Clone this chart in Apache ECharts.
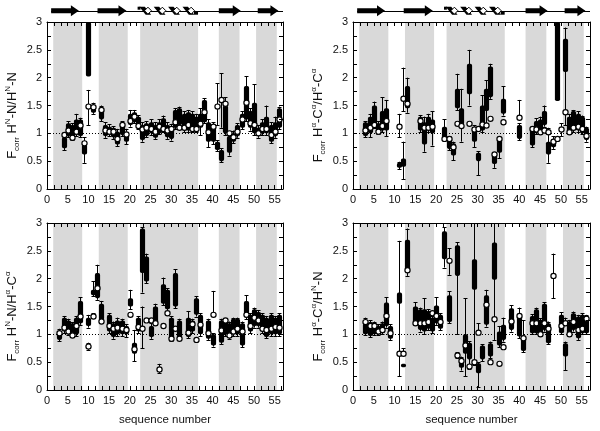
<!DOCTYPE html>
<html><head><meta charset="utf-8">
<script src="https://cdn.jsdelivr.net/npm/echarts@6/dist/echarts.min.js"></script>
<style>html,body{margin:0;padding:0;background:#fff}#c{width:600px;height:431px}</style>
</head><body><div id="c"></div>
<script>
// ---- axis settings ----
const xMin = 0, xMax = 57, xStep = 5;
const yMin = 0, yMax = 3, yStep = 0.5;
const referenceLine = 1;

// ---- secondary structure / shaded regions (residue numbers) ----
const bandRanges = [[1.5, 8.5], [12.5, 19.5], [22.5, 36.5], [41.5, 46.5], [50.5, 55.5]];
const strandRanges = [[1, 7.7], [12.2, 19.2], [41.5, 46.8], [50.9, 55.9]];
const helixRanges = [[22.3, 36.2]];
const ssBackbone = [[1, 57]];

// rows: [residue, barLow, barHigh, whiskerLow, whiskerHigh, circle, circleErrLow, circleErrHigh]
const hnN_hnN = [
  [4, 0.73, 0.93, 0.70, 0.96, 0.97, null, null],
  [5, 0.95, 1.18, 0.93, 1.22, 1.05, null, null],
  [6, 0.92, 1.15, 0.88, 1.18, 0.92, null, null],
  [7, 0.97, 1.25, 0.95, 1.35, 1.03, null, null],
  [8, 0.95, 1.25, 0.93, 1.28, 1.14, null, null],
  [9, 0.62, 0.80, 0.47, 0.93, 0.82, null, null],
  [10, 2.02, 3.0, null, null, 1.48, 1.15, 1.78],
  [11, 1.37, 1.45, 1.35, 1.55, 1.47, null, null],
  [13, 1.25, 1.45, 1.22, 1.50, 1.42, null, null],
  [14, 0.95, 1.15, 0.92, 1.20, 1.05, null, null],
  [15, 0.97, 1.12, 0.95, 1.16, 1.03, null, null],
  [16, 0.93, 1.10, 0.90, 1.13, 1.03, null, null],
  [17, 0.80, 1.03, 0.77, 1.08, 0.90, null, null],
  [18, 0.97, 1.18, 0.95, 1.22, 1.15, null, null],
  [19, 0.85, 1.00, 0.80, 1.08, 0.98, null, null],
  [20, 1.15, 1.35, 1.12, 1.42, 1.22, null, null],
  [21, 1.20, 1.38, 1.18, 1.42, 1.30, null, null],
  [22, 1.10, 1.30, 1.07, 1.33, 1.13, null, null],
  [23, 0.88, 1.15, 0.85, 1.20, 1.07, null, null],
  [24, 0.95, 1.18, 0.93, 1.22, 1.10, null, null],
  [25, 1.00, 1.20, 0.97, 1.25, 1.08, null, null],
  [26, 0.92, 1.15, 0.90, 1.20, 1.03, null, null],
  [27, 1.00, 1.20, 0.98, 1.25, 1.12, null, null],
  [28, 1.05, 1.27, 1.02, 1.32, 1.08, null, null],
  [29, 0.93, 1.15, 0.90, 1.20, 1.05, null, null],
  [30, 0.90, 1.12, 0.87, 1.17, 1.08, null, null],
  [31, 1.10, 1.42, 1.07, 1.45, 1.20, null, null],
  [32, 1.15, 1.45, 1.10, 1.48, 1.10, null, null],
  [33, 1.05, 1.35, 1.02, 1.40, 1.10, null, null],
  [34, 1.05, 1.38, 1.02, 1.42, 1.15, null, null],
  [35, 1.05, 1.35, 1.02, 1.40, 1.08, null, null],
  [36, 1.05, 1.30, 1.02, 1.35, 1.08, null, null],
  [37, 1.10, 1.35, 0.97, 1.45, 1.17, null, null],
  [38, 1.20, 1.60, 1.18, 1.63, 1.38, null, null],
  [39, 0.85, 1.20, 0.75, 1.25, 1.02, null, null],
  [40, 0.85, 1.10, 0.80, 1.20, 1.12, null, null],
  [41, 0.70, 0.85, 0.68, 0.88, 1.48, 1.15, 1.90],
  [42, 0.50, 0.70, 0.48, 0.73, 1.60, 1.10, 2.08],
  [43, 1.00, 1.50, 0.97, 1.65, 1.53, null, null],
  [44, 0.65, 0.95, 0.60, 1.00, 1.00, null, null],
  [45, 0.85, 1.00, 0.82, 1.05, 0.93, null, null],
  [46, 0.95, 1.15, 0.92, 1.18, 1.03, null, null],
  [47, 1.10, 1.35, 1.07, 1.40, 1.25, null, null],
  [48, 1.25, 1.85, 1.22, 2.03, 1.55, null, null],
  [49, 1.10, 1.40, 1.05, 1.45, 1.18, null, null],
  [50, 1.00, 1.55, 0.97, 1.88, 1.15, null, null],
  [51, 0.95, 1.10, 0.92, 1.15, 1.00, null, null],
  [52, 1.00, 1.20, 0.97, 1.25, 1.08, null, null],
  [53, 1.00, 1.30, 0.97, 1.50, 1.08, null, null],
  [54, 0.85, 1.15, 0.82, 1.20, 0.97, null, null],
  [55, 0.95, 1.20, 0.92, 1.30, 1.03, null, null],
  [56, 1.10, 1.45, 1.07, 1.48, 1.25, null, null]
];

const haCa_haCa = [
  [3, 0.95, 1.20, 0.93, 1.22, 1.05, null, null],
  [4, 1.00, 1.30, 0.93, 1.35, 1.10, null, null],
  [5, 1.13, 1.50, 1.10, 1.57, 1.15, null, null],
  [6, 1.00, 1.18, 0.98, 1.22, 1.03, null, null],
  [7, 1.05, 1.40, 1.02, 1.65, 1.13, null, null],
  [8, 1.05, 1.45, 0.95, 1.60, 1.22, null, null],
  [11, 0.38, 0.47, 0.36, 0.49, 1.12, 0.93, 1.35],
  [12, 0.40, 0.55, 0.18, 0.85, 1.62, 1.40, 2.18],
  [13, 1.45, 1.85, 1.37, 2.00, 1.53, null, null],
  [16, 1.05, 1.30, 1.02, 1.33, 1.22, null, null],
  [17, 0.80, 1.20, 0.67, 1.30, 1.10, null, null],
  [18, 1.05, 1.30, 1.02, 1.35, 1.10, null, null],
  [19, 1.00, 1.25, 0.78, 1.40, 1.12, null, null],
  [22, 0.90, 1.12, 0.88, 1.25, 0.90, null, null],
  [23, 0.72, 0.92, 0.70, 0.95, 0.90, null, null],
  [24, 0.60, 0.82, 0.52, 0.85, 0.75, null, null],
  [25, 1.45, 1.80, 1.42, 2.07, 1.17, null, null],
  [26, 1.15, 1.45, 0.85, 1.80, 1.13, null, null],
  [28, 1.70, 2.25, 1.50, 2.50, 1.17, null, null],
  [29, 0.85, 1.10, 0.75, 1.15, 1.07, null, null],
  [30, 0.50, 0.65, 0.25, 0.68, 1.08, null, null],
  [31, 1.05, 1.50, 1.02, 1.68, 1.16, null, null],
  [32, 1.40, 1.80, 1.12, 1.95, 1.14, null, null],
  [33, 1.65, 2.20, 1.62, 2.25, 1.26, null, null],
  [34, 0.45, 0.62, 0.38, 0.65, 0.62, null, null],
  [35, 0.65, 0.90, 0.55, 0.93, 0.90, null, null],
  [36, 1.35, 1.62, 1.32, 1.85, 1.20, null, null],
  [40, 0.90, 1.15, 0.88, 1.18, 1.28, null, 1.60],
  [43, 0.78, 1.08, 0.75, 1.10, 1.08, null, null],
  [44, 1.00, 1.22, 0.98, 1.27, 1.07, null, null],
  [45, 1.05, 1.25, 1.02, 1.30, 1.02, null, null],
  [46, 1.15, 1.40, 1.12, 1.50, 1.05, null, null],
  [47, 0.62, 0.85, 0.47, 1.10, 1.02, null, null],
  [48, 0.75, 0.90, 0.72, 0.95, 0.85, null, null],
  [49, 1.58, 3.00, null, null, 0.90, null, null],
  [50, null, null, null, null, 1.07, 0.95, 1.18],
  [51, 2.10, 2.70, 1.15, 2.90, 1.38, null, null],
  [52, 1.00, 1.30, 0.98, 1.35, 1.02, null, null],
  [53, 1.05, 1.40, 1.02, 1.42, 1.10, null, null],
  [54, 1.05, 1.35, 1.02, 1.40, 1.12, null, null],
  [55, 1.00, 1.30, 0.98, 1.32, 1.08, null, null],
  [56, 0.88, 1.10, 0.85, 1.12, 0.95, null, null]
];

const hnN_haCa = [
  [3, 0.90, 1.05, 0.88, 1.10, 1.02, null, null],
  [4, 1.05, 1.30, 1.02, 1.33, 1.12, null, null],
  [5, 1.00, 1.25, 0.98, 1.28, 1.05, null, null],
  [6, 0.97, 1.20, 0.95, 1.22, 0.98, null, null],
  [7, 1.00, 1.30, 0.97, 1.33, 1.15, null, null],
  [8, 1.20, 1.60, 1.17, 1.67, 1.32, null, null],
  [10, 1.15, 1.30, 1.12, 1.35, 0.78, 0.72, 0.85],
  [11, 1.70, 1.80, 1.68, 1.95, 1.32, null, 1.38],
  [12, 1.65, 2.10, 1.62, 2.25, 1.83, null, null],
  [13, 1.25, 1.55, 1.22, 1.60, 1.23, null, null],
  [15, 1.05, 1.35, 1.02, 1.38, 1.15, null, null],
  [16, 0.95, 1.20, 0.92, 1.23, 1.10, null, null],
  [17, 1.00, 1.25, 0.97, 1.30, 1.12, null, null],
  [18, 1.00, 1.25, 0.97, 1.28, 1.10, null, null],
  [19, 1.00, 1.15, 0.95, 1.18, 1.08, null, null],
  [20, 1.50, 1.65, 1.45, 1.80, 1.35, null, null],
  [21, 0.65, 0.85, 0.52, 1.08, 0.73, null, null],
  [22, 1.05, 1.30, 1.02, 1.33, 1.13, null, null],
  [23, 2.10, 2.90, 1.75, 2.92, 1.10, 0.75, 1.50],
  [24, 1.95, 2.40, 1.92, 2.45, 1.25, null, null],
  [25, 0.95, 1.15, 0.92, 1.20, 1.25, null, null],
  [26, 1.20, 1.50, 1.17, 1.55, 1.20, null, null],
  [27, null, null, null, null, 0.37, 0.30, 0.47],
  [28, 1.55, 1.90, 1.52, 2.02, 1.15, null, null],
  [29, 1.45, 1.80, 1.42, 1.83, 1.38, null, null],
  [30, 0.90, 1.30, 0.88, 1.33, 0.92, null, null],
  [31, 1.50, 2.10, 1.47, 2.17, 1.10, null, null],
  [32, 0.92, 1.25, 0.90, 1.28, 0.92, null, null],
  [34, 0.95, 1.30, 0.93, 1.42, 1.03, null, null],
  [35, 1.05, 1.25, 1.02, 1.28, 1.18, null, null],
  [36, 1.35, 1.65, 1.32, 1.68, 0.90, null, null],
  [37, 1.00, 1.35, 0.97, 1.38, 1.17, null, null],
  [39, 0.92, 1.25, 0.90, 1.28, 1.02, null, null],
  [40, 0.80, 1.00, 0.78, 1.02, 1.35, null, 1.78],
  [42, 0.85, 1.25, 0.82, 1.28, 1.07, null, null],
  [43, 1.00, 1.25, 0.97, 1.28, 1.25, null, null],
  [44, 0.95, 1.20, 0.92, 1.23, 0.98, null, null],
  [45, 1.00, 1.28, 0.97, 1.30, 1.05, null, null],
  [46, 1.00, 1.28, 0.97, 1.30, 1.10, null, null],
  [47, 0.80, 1.20, 0.77, 1.23, 1.05, null, null],
  [48, 1.30, 1.60, 1.27, 1.70, 1.35, null, null],
  [49, 1.05, 1.35, 1.02, 1.38, 1.15, null, null],
  [50, 1.15, 1.45, 1.12, 1.48, 1.30, null, null],
  [51, 1.15, 1.40, 1.12, 1.43, 1.25, null, null],
  [52, 1.05, 1.35, 1.02, 1.38, 1.10, null, null],
  [53, 0.95, 1.30, 0.93, 1.33, 1.08, null, null],
  [54, 1.00, 1.35, 0.97, 1.38, 1.10, null, null],
  [55, 1.00, 1.30, 0.97, 1.33, 1.13, null, null],
  [56, 1.00, 1.35, 0.97, 1.38, 1.12, null, null]
];

const haCa_hnN = [
  [3, 1.00, 1.20, 0.98, 1.30, 1.22, null, null],
  [4, 0.97, 1.22, 0.95, 1.25, 1.15, null, null],
  [5, 1.00, 1.20, 0.98, 1.23, 1.15, null, null],
  [6, 1.00, 1.15, 0.98, 1.18, 1.05, null, null],
  [7, 1.02, 1.20, 1.00, 1.23, 1.08, null, null],
  [8, 1.15, 1.57, 1.12, 1.67, 1.33, null, null],
  [9, 0.92, 1.15, 0.90, 1.18, 1.02, null, null],
  [11, 1.55, 1.75, 0.25, 2.68, 0.65, null, null],
  [12, 0.41, 0.47, null, null, 0.65, null, 0.75],
  [13, 2.15, 2.70, 2.05, 2.90, 2.15, null, null],
  [15, 1.20, 1.50, 1.17, 1.58, 1.20, null, null],
  [16, 1.08, 1.45, 1.05, 1.48, 1.20, null, null],
  [17, 1.05, 1.45, 1.00, 1.65, 1.20, null, null],
  [18, 1.10, 1.42, 1.07, 1.45, 1.22, null, null],
  [19, 1.05, 1.30, 1.02, 1.33, 1.38, null, null],
  [20, 1.20, 1.52, 1.17, 1.67, 1.33, null, null],
  [21, 1.10, 1.35, 1.07, 1.38, 1.22, null, null],
  [22, 2.35, 2.85, 2.20, 2.92, null, null, null],
  [23, 1.22, 1.70, 1.20, 1.77, 2.32, 2.07, 2.55],
  [25, 2.05, 2.60, 1.00, 2.65, 0.62, 0.57, 0.68],
  [26, 0.40, 0.55, 0.35, 0.60, 0.52, null, null],
  [27, 0.65, 1.00, 0.25, 1.65, 0.80, null, null],
  [28, 0.55, 0.85, 0.38, 0.88, 0.42, null, null],
  [29, 1.80, 2.35, 0.45, 3.00, 0.50, null, null],
  [30, 0.30, 0.48, 0.05, 0.50, 1.03, null, 1.20],
  [31, 0.55, 0.80, 0.52, 0.82, null, null, null],
  [32, 1.17, 1.70, 1.14, 1.80, 1.53, null, null],
  [33, 0.60, 0.84, 0.57, 0.87, 0.50, null, null],
  [34, 1.98, 2.65, 0.90, 3.00, 1.27, null, null],
  [35, 0.80, 1.05, 0.77, 1.15, 0.47, null, null],
  [36, 0.90, 1.17, 0.87, 1.30, 0.77, null, null],
  [38, 1.08, 1.47, 1.05, 1.52, 1.23, null, null],
  [40, 0.96, 1.35, 0.93, 1.48, 1.33, null, null],
  [41, 0.70, 0.98, 0.68, 1.25, 0.93, null, null],
  [43, 1.02, 1.33, 1.00, 1.36, 1.20, null, null],
  [44, 1.02, 1.45, 1.00, 1.48, 1.20, null, null],
  [45, 0.99, 1.26, 0.97, 1.29, 1.00, null, null],
  [46, 1.08, 1.55, 1.05, 1.58, 1.20, null, null],
  [47, 0.84, 1.20, 0.82, 1.23, 1.10, null, null],
  [48, null, null, null, null, 2.05, 1.65, 2.45],
  [50, 1.02, 1.35, 1.00, 1.40, 1.15, null, null],
  [51, 0.60, 0.84, 0.36, 0.87, 1.20, null, 1.30],
  [52, 0.99, 1.23, 0.97, 1.26, 1.00, null, null],
  [53, 1.08, 1.38, 1.05, 1.41, 1.22, null, null],
  [54, 0.93, 1.32, 0.90, 1.35, 1.08, null, null],
  [55, 1.02, 1.35, 1.00, 1.38, 1.10, null, null],
  [56, 1.02, 1.32, 1.00, 1.35, 1.28, null, null]
];

const titleParts = [['N', 'N'], ['a', 'a'], ['N', 'a'], ['a', 'N']];
const xAxisTitle = 'sequence number';

const FONT = '"Liberation Sans", Arial, Helvetica, sans-serif';
const panels = [
  { rows: hnN_hnN, grid: { left: 47, top: 22, width: 236, height: 167 }, ss: true },
  { rows: haCa_haCa, grid: { left: 353, top: 22, width: 237, height: 167 }, ss: true },
  { rows: hnN_haCa, grid: { left: 47, top: 223, width: 236, height: 167 }, ss: false },
  { rows: haCa_hnN, grid: { left: 353, top: 223, width: 237, height: 167 }, ss: false }
];

function coupling(k) {
  return k === 'N' ? '{m|H}{sup|N}{m|-N}' : '{m|H}{sup|α}{m|-C}{sup|α}';
}
function yTitle(p) {
  return '{m|F}{sub|corr}{m| }' + coupling(p[0]) + '{m|/}' + coupling(p[1]);
}
const richTitle = {
  m: { fontSize: 13, lineHeight: 17, fontFamily: FONT, color: '#111' },
  sup: { fontSize: 8, lineHeight: 17, verticalAlign: 'top', fontFamily: FONT, color: '#111' },
  sub: { fontSize: 8, lineHeight: 17, verticalAlign: 'bottom', fontFamily: FONT, color: '#111' }
};

const axisLine = { show: true, onZero: false, lineStyle: { color: '#000', width: 1 } };
const grids = [], xAxes = [], yAxes = [], series = [];

panels.forEach((p, i) => {
  grids.push(Object.assign({ containLabel: false }, p.grid));
  const bottom = i >= 2;
  const xBase = {
    gridIndex: i, type: 'value', min: xMin, max: xMax, interval: xStep, z: 10,
    axisLine: axisLine, splitLine: { show: false },
    axisTick: { show: true, inside: true, length: 4, lineStyle: { color: '#000' } },
    minorTick: { show: true, splitNumber: 3, length: 4, lineStyle: { color: '#000' } }
  };
  xAxes.push(Object.assign({}, xBase, {
    position: 'bottom',
    axisLabel: { fontSize: 11, color: '#111', margin: 5, fontFamily: FONT,
      formatter: v => (v % xStep === 0 ? String(v) : '') },
    name: bottom ? xAxisTitle : '', nameLocation: 'middle', nameGap: 24,
    nameTextStyle: { fontSize: 11.5, color: '#111', fontFamily: FONT }
  }));
  xAxes.push(Object.assign({}, xBase, { position: 'top', axisLabel: { show: false } }));
  const yBase = {
    gridIndex: i, type: 'value', min: yMin, max: yMax, interval: yStep, z: 10,
    axisLine: axisLine, splitLine: { show: false },
    axisTick: { show: true, inside: true, length: 4, lineStyle: { color: '#000' } },
    minorTick: { show: true, splitNumber: 2, length: 4, lineStyle: { color: '#000' } }
  };
  yAxes.push(Object.assign({}, yBase, {
    position: 'left',
    axisLabel: { fontSize: 11, color: '#111', margin: 5, fontFamily: FONT },
    name: yTitle(titleParts[i]), nameLocation: 'middle', nameRotate: 90, nameGap: 26,
    nameTextStyle: { rich: richTitle, padding: [0, 20, 0, 0] }
  }));
  yAxes.push(Object.assign({}, yBase, { position: 'right', axisLabel: { show: false } }));

  const xi = 2 * i, yi = 2 * i;

  // shaded bands
  series.push({
    type: 'custom', xAxisIndex: xi, yAxisIndex: yi, z: 1, silent: true,
    data: bandRanges.map(b => [b[0], yMin]),
    renderItem: (params, api) => {
      const b = bandRanges[params.dataIndex];
      const p0 = api.coord([b[0], yMax]), p1 = api.coord([b[1], yMin]);
      return { type: 'rect', shape: { x: p0[0], y: p0[1], width: p1[0] - p0[0], height: p1[1] - p0[1] },
        style: { fill: '#d9d9d9' } };
    }
  });
  // dotted reference line
  series.push({
    type: 'custom', xAxisIndex: xi, yAxisIndex: yi, z: 2, silent: true,
    data: [[xMin, referenceLine]],
    renderItem: (params, api) => {
      const a = api.coord([xMin, referenceLine]), b = api.coord([xMax, referenceLine]);
      const y = Math.round(a[1]) + 0.5;
      return { type: 'line', shape: { x1: a[0], y1: y, x2: b[0], y2: y },
        style: { stroke: '#000', lineWidth: 1, lineDash: [1, 2] } };
    }
  });
  // data marks
  const rows = p.rows;
  series.push({
    type: 'custom', xAxisIndex: xi, yAxisIndex: yi, z: 3, silent: true,
    data: rows.map(r => [r[0], r[1] != null ? r[1] : r[5]]),
    renderItem: (params, api) => {
      const r = rows[params.dataIndex];
      const ch = [];
      const cx = Math.round(api.coord([r[0], 1])[0]) + 0.5;
      const Y = v => api.coord([r[0], v])[1];
      const seg = (lo, hi, capLo, capHi) => {
        const y1 = Y(lo), y2 = Y(hi);
        ch.push({ type: 'line', shape: { x1: cx, y1: y1, x2: cx, y2: y2 }, style: { stroke: '#000', lineWidth: 1 } });
        if (capLo) ch.push({ type: 'line', shape: { x1: cx - 2, y1: Math.round(y1) + 0.5, x2: cx + 2, y2: Math.round(y1) + 0.5 }, style: { stroke: '#000', lineWidth: 1 } });
        if (capHi) ch.push({ type: 'line', shape: { x1: cx - 2, y1: Math.round(y2) + 0.5, x2: cx + 2, y2: Math.round(y2) + 0.5 }, style: { stroke: '#000', lineWidth: 1 } });
      };
      if (r[3] != null && r[4] != null) seg(r[3], r[4], true, true);
      if (r[5] != null && (r[6] != null || r[7] != null)) {
        seg(r[6] != null ? r[6] : r[5], r[7] != null ? r[7] : r[5], r[6] != null, r[7] != null);
      }
      if (r[1] != null && r[2] != null) {
        const yt = Y(r[2]), yb = Y(r[1]);
        ch.push({ type: 'rect', shape: { x: cx - 2.6, y: yt, width: 5.2, height: yb - yt, r: 1.8 }, style: { fill: '#000' } });
      }
      if (r[5] != null) {
        ch.push({ type: 'circle', shape: { cx: cx, cy: Y(r[5]), r: 2.6 }, style: { fill: '#fff', stroke: '#000', lineWidth: 1.2 } });
      }
      return { type: 'group', children: ch };
    }
  });

  if (p.ss) {
    const ssY = api => api.coord([xMin, yMax])[1] - 11.3;
    series.push({
      type: 'custom', xAxisIndex: xi, yAxisIndex: yi, z: 3, silent: true, clip: false,
      data: ssBackbone.map(s => [s[0], yMax]),
      renderItem: (params, api) => {
        const s = ssBackbone[params.dataIndex];
        const y = Math.round(ssY(api)) + 0.5;
        return { type: 'line', shape: { x1: api.coord([s[0], yMax])[0], y1: y, x2: api.coord([s[1], yMax])[0], y2: y },
          style: { stroke: '#000', lineWidth: 1 } };
      }
    });
    series.push({
      type: 'custom', xAxisIndex: xi, yAxisIndex: yi, z: 4, silent: true, clip: false,
      data: strandRanges.map(s => [s[0], yMax]),
      renderItem: (params, api) => {
        const s = strandRanges[params.dataIndex];
        const y = ssY(api);
        const x1 = api.coord([s[0], yMax])[0], x2 = api.coord([s[1], yMax])[0];
        const hl = 8;
        return { type: 'polygon', shape: { points: [
          [x1, y - 2.5], [x2 - hl, y - 2.5], [x2 - hl, y - 5.5], [x2, y], [x2 - hl, y + 5.5], [x2 - hl, y + 2.5], [x1, y + 2.5]] },
          style: { fill: '#000' } };
      }
    });
    series.push({
      type: 'custom', xAxisIndex: xi, yAxisIndex: yi, z: 4, silent: true, clip: false,
      data: helixRanges.map(s => [s[0], yMax]),
      renderItem: (params, api) => {
        const s = helixRanges[params.dataIndex];
        const y = ssY(api);
        const xs = api.coord([s[0], yMax])[0], xe = api.coord([s[1], yMax])[0];
        const n = 4, w = (xe - xs) / n;
        const ch = [];
        for (let k = 0; k < n; k++) {
          const x0 = xs + k * w;
          ch.push({ type: 'polygon', shape: { points: [
            [x0, y - 4], [x0 + 0.38 * w, y - 4], [x0 + 0.82 * w, y + 4], [x0 + 0.44 * w, y + 4]] },
            style: { fill: '#000' } });
          ch.push({ type: 'polygon', shape: { points: [
            [x0 + 0.6 * w, y - 3.5], [x0 + 0.84 * w, y], [x0 + 0.6 * w, y + 3.5], [x0 + 0.36 * w, y]] },
            style: { fill: '#fff', stroke: '#000', lineWidth: 1 } });
        }
        ch.unshift({ type: 'rect', shape: { x: xs - 0.12 * w, y: y - 4, width: 0.2 * w, height: 3 }, style: { fill: '#000' } });
        ch.push({ type: 'rect', shape: { x: xe - 0.2 * w, y: y + 1, width: 0.28 * w, height: 3 }, style: { fill: '#000' } });
        return { type: 'group', children: ch };
      }
    });
  }
});

const chart = echarts.init(document.getElementById('c'), null, { renderer: 'canvas' });
chart.setOption({
  animation: false,
  backgroundColor: '#fff',
  textStyle: { fontFamily: FONT },
  grid: grids, xAxis: xAxes, yAxis: yAxes, series: series
});
</script></body></html>
